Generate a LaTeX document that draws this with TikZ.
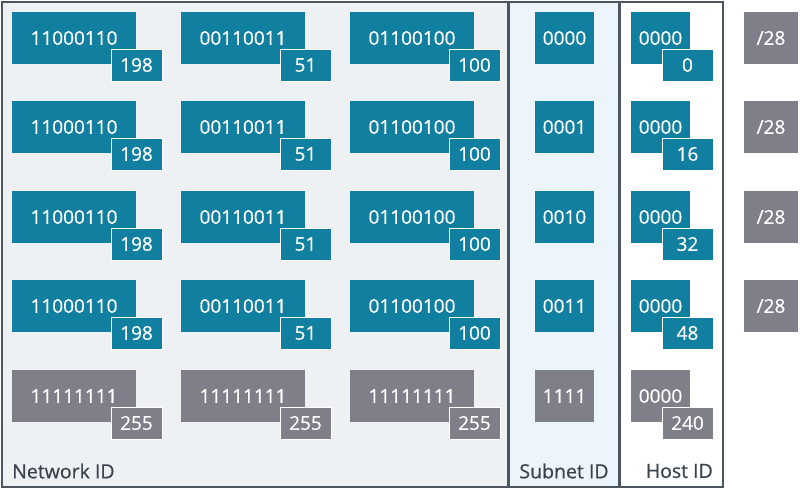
\documentclass[tikz,border=0pt]{standalone}
\usepackage{fontspec}
\setmainfont{Open Sans}
\newfontfamily\semib{Open Sans}[FakeBold=0.6]
\definecolor{teal}{HTML}{117F9F}
\definecolor{greyb}{HTML}{7F7F8A}
\definecolor{frame}{HTML}{4B5661}
\definecolor{netbg}{HTML}{EDF1F4}
\definecolor{subbg}{HTML}{EDF5FC}
\definecolor{labc}{HTML}{3A434D}
\begin{document}
\begin{tikzpicture}[x=1pt,y=-1pt,
  box/.style={inner sep=0pt,outer sep=0pt,text=white,font=\semib\fontsize{19}{22}\selectfont,anchor=north west},
  big/.style={box,minimum width=124pt,minimum height=52pt},
  sq/.style={box,minimum width=59pt,minimum height=52pt},
  sm/.style={box,minimum width=51pt,minimum height=32pt,draw=white,line width=1pt},
  lab/.style={text=labc,font=\semib\fontsize{19.5}{22}\selectfont,inner sep=0pt}]
\useasboundingbox (0,0) rectangle (800,490);
\fill[white] (0,0) rectangle (800,490);
\fill[netbg] (2,2) rectangle (508.5,487);
\fill[subbg] (508.5,2) rectangle (619.5,487);
\draw[frame,line width=2.5pt] (2,2) rectangle (723,487);
\draw[frame,line width=2.5pt] (508.5,2) -- (508.5,487);
\draw[frame,line width=2.5pt] (619.5,2) -- (619.5,487);
% rows
\foreach \r/\y/\s/\h in {1/12/0000/0,2/101/0001/16,3/191/0010/32,4/280/0011/48}{
  \node[big,fill=teal] (a\r) at (12,\y) {11000110};
  \node[sm,fill=teal] (as\r) at (111,\y+37) {198};
  \node[big,fill=teal] (b\r) at (181,\y) {00110011};
  \node[sm,fill=teal] (bs\r) at (280,\y+37) {51};
  \node[big,fill=teal] (c\r) at (350,\y) {01100100};
  \node[sm,fill=teal] (cs\r) at (449,\y+37) {100};
  \node[sq,fill=teal] (s\r) at (535,\y) {\s};
  \node[sq,fill=teal] (h\r) at (631,\y) {0000};
  \node[sm,fill=teal] (hs\r) at (662,\y+37) {\h};
  \node[box,fill=greyb,minimum width=54pt,minimum height=52pt] (m\r) at (744,\y) {/28};
}
\node[big,fill=greyb] (a5) at (12,370) {11111111};
\node[sm,fill=greyb] (as5) at (111,407) {255};
\node[big,fill=greyb] (b5) at (181,370) {11111111};
\node[sm,fill=greyb] (bs5) at (280,407) {255};
\node[big,fill=greyb] (c5) at (350,370) {11111111};
\node[sm,fill=greyb] (cs5) at (449,407) {255};
\node[sq,fill=greyb] (s5) at (535,370) {1111};
\node[sq,fill=greyb] (h5) at (631,370) {0000};
\node[sm,fill=greyb] (hs5) at (662,407) {240};
% labels
\node[lab,anchor=west] (ln) at (12,471) {Network ID};
\node[lab] (ls) at (564,471) {Subnet ID};
\node[lab,anchor=east] (lh) at (713,471) {Host ID};
\end{tikzpicture}
\end{document}
